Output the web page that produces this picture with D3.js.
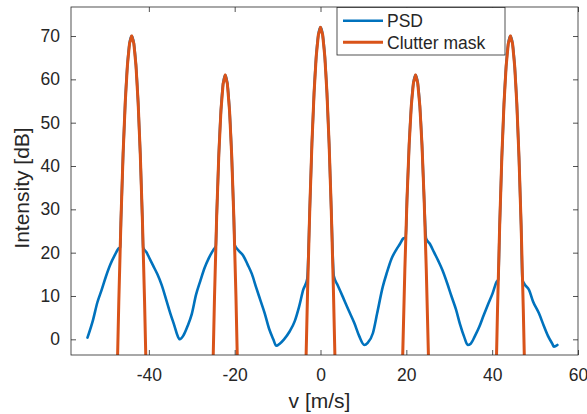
<!DOCTYPE html>
<html><head><meta charset="utf-8">
<script src="https://cdn.jsdelivr.net/npm/d3@7"></script>
<style>body{margin:0;background:#fff}svg{display:block}text{font-family:"Liberation Sans",Arial,sans-serif;fill:#262626}</style>
</head><body><svg id="c" width="587" height="414"></svg>
<script>
// PSD series (velocity m/s, intensity dB)
const psdV = [-54.3,-53,-52,-51,-50,-49,-48,-47,-46.68,-46.5,-46,-45.5,-45,-44.5,-44,-43.5,-43,-42.5,-42,-41.5,-41.32,-40.5,-40,-39,-38,-37,-36,-35,-34,-33.3,-32.8,-32,-31,-30,-29,-28,-27,-26,-25,-24.41,-24.2,-23.7,-23.2,-22.7,-22.2,-21.7,-21.2,-20.7,-20.2,-19.99,-19.2,-18,-17,-16,-15,-14,-13,-12,-11,-10.3,-9.5,-8.5,-7.2,-6,-5,-4,-3.1,-2.5,-2,-1.5,-1,-0.5,0,0.5,1,1.5,2,2.5,3.1,4,5.2,6.5,7.9,9,10.2,11,12.2,13.2,14.5,15.5,16.5,17.6,18.5,19.3,19.86,20.15,20.65,21.15,21.65,22.15,22.65,23.15,23.65,24.15,24.6,25.5,26.5,27.5,28.4,29.5,30.5,31.6,32.5,33.5,34.3,35,36,37,38,39,40.1,41,41.41,41.75,42.25,42.75,43.25,43.75,44.25,44.75,45.25,45.75,46.25,46.75,47.05,47.5,48.6,49.5,50.9,52,53,54,54.4,55.2];
const psdDb = [0.4,4.5,8.5,11.4,14.5,17.2,19.3,21,21.2,27.5,42.8,54.7,63.2,68.3,70,68.3,63.2,54.7,42.8,27.5,21.2,20,19,17,15,12.5,9.3,6,3,0.8,0,0.8,3,5.8,10.3,13.5,16.5,18.8,20.6,21.5,28.2,42.55,52.8,58.95,61,58.95,52.8,42.55,28.2,21.8,20.6,19.3,17.3,15.1,12,9,6,2.5,0,-1.5,-1,0,1.8,4.2,7.5,11.5,13.9,30.1,45.2,56.9,65.3,70.3,72,70.3,65.3,56.9,45.2,30.1,14.6,12.5,9.8,6.8,3.7,0.8,-1.3,-0.8,1.4,6,12.1,15.5,18.5,20.6,22,23.3,23.5,32.2,44.8,53.8,59.2,61,59.2,53.8,44.8,32.2,23.3,22,20,18,16,13,10,6.8,3.5,0.5,-1.3,-1,0.8,2.9,5.5,8,10.6,13.2,13.8,26.25,42,54.25,63,68.25,70,68.25,63,54.25,42,26.25,13.8,12.8,11.4,8.8,6,3.2,0.8,-1,-1.7,-1.3];

// Clutter mask: one group of samples per clutter peak
const maskV = [
  [-47.5,-47,-46.5,-46,-45.5,-45,-44.5,-44,-43.5,-43,-42.5,-42,-41.5,-41,-40.5],
  [-25.7,-25.2,-24.7,-24.2,-23.7,-23.2,-22.7,-22.2,-21.7,-21.2,-20.7,-20.2,-19.7,-19.2,-18.7],
  [-3.5,-3,-2.5,-2,-1.5,-1,-0.5,0,0.5,1,1.5,2,2.5,3,3.5],
  [18.65,19.15,19.65,20.15,20.65,21.15,21.65,22.15,22.65,23.15,23.65,24.15,24.65,25.15,25.65],
  [40.75,41.25,41.75,42.25,42.75,43.25,43.75,44.25,44.75,45.25,45.75,46.25,46.75,47.25,47.75]
];
const maskDb = [
  [-13.3,8.8,27.5,42.8,54.7,63.2,68.3,70,68.3,63.2,54.7,42.8,27.5,8.8,-13.3],
  [-39.5,-12.8,9.75,28.2,42.55,52.8,58.95,61,58.95,52.8,42.55,28.2,9.75,-12.8,-39.5],
  [-10.1,11.7,30.1,45.2,56.9,65.3,70.3,72,70.3,65.3,56.9,45.2,30.1,11.7,-10.1],
  [-27.2,-3.8,16,32.2,44.8,53.8,59.2,61,59.2,53.8,44.8,32.2,16,-3.8,-27.2],
  [-15.75,7,26.25,42,54.25,63,68.25,70,68.25,63,54.25,42,26.25,7,-15.75]
];
const xTicks = [-40,-20,0,20,40,60];
const yTicks = [0,10,20,30,40,50,60,70];
const seriesNames = ["PSD","Clutter mask"];
const colors = ["#0072BD","#D95319"];

const svg = d3.select("#c");
const L=71, R=578, T=7, B=355;
const x = d3.scaleLinear().domain([-58.14,60]).range([L,R]);
const y = d3.scaleLinear().domain([-3.62,76.7]).range([B,T]);

svg.append("defs").append("clipPath").attr("id","clip")
  .append("rect").attr("x",L).attr("y",T).attr("width",R-L).attr("height",B-T);

const line = d3.line().x(d=>x(d[0])).y(d=>y(d[1]));
const smooth = d3.line().x(d=>x(d[0])).y(d=>y(d[1])).curve(d3.curveMonotoneX);
const plot = svg.append("g").attr("clip-path","url(#clip)");

plot.append("path").datum(psdV.map((v,i)=>[v,psdDb[i]]))
  .attr("d",smooth).attr("fill","none").attr("stroke",colors[0])
  .attr("stroke-width",2.6).attr("stroke-linejoin","round").attr("stroke-linecap","round");

maskV.forEach((vs,k)=>{
  plot.append("path").datum(vs.map((v,i)=>[v,maskDb[k][i]]))
    .attr("d",line).attr("fill","none").attr("stroke",colors[1])
    .attr("stroke-width",3).attr("stroke-linejoin","round");
});

// axes
const axCol="#262626";
const tickFont="17.5px";
const gx = svg.append("g").attr("transform",`translate(0,${B})`)
  .call(d3.axisBottom(x).tickValues(xTicks).tickSizeInner(-5).tickSizeOuter(0).tickPadding(14));
const gxt = svg.append("g").attr("transform",`translate(0,${T})`)
  .call(d3.axisTop(x).tickValues(xTicks).tickSizeInner(-5).tickSizeOuter(0).tickFormat(""));
const gy = svg.append("g").attr("transform",`translate(${L},0)`)
  .call(d3.axisLeft(y).tickValues(yTicks).tickSizeInner(-5).tickSizeOuter(0).tickPadding(11));
const gyr = svg.append("g").attr("transform",`translate(${R},0)`)
  .call(d3.axisRight(y).tickValues(yTicks).tickSizeInner(-5).tickSizeOuter(0).tickFormat(""));
[gx,gxt,gy,gyr].forEach(g=>{
  g.select(".domain").remove();
  g.selectAll("line").attr("stroke",axCol).attr("stroke-width",0.8);
  g.selectAll("text").style("font-size",tickFont).attr("fill",axCol);
});
gx.selectAll("text").text(d=>d<0?"-"+Math.abs(d):d);
gy.selectAll("text").text(d=>d<0?"-"+Math.abs(d):d);
svg.append("rect").attr("x",L).attr("y",T).attr("width",R-L).attr("height",B-T)
  .attr("fill","none").attr("stroke",axCol).attr("stroke-width",0.8);

svg.append("text").attr("x",(L+R)/2-5).attr("y",408).attr("text-anchor","middle")
  .style("font-size","21px").text("v [m/s]");
svg.append("text").attr("transform",`translate(28.5,188) rotate(-90)`).attr("text-anchor","middle")
  .style("font-size","21px").text("Intensity [dB]");

// legend
const lg = svg.append("g");
lg.append("rect").attr("x",337).attr("y",7.5).attr("width",168).attr("height",47.5)
  .attr("fill","#fff").attr("stroke",axCol).attr("stroke-width",0.8);
seriesNames.forEach((n,i)=>{
  const yy = 20.7 + i*21.5;
  lg.append("line").attr("x1",343).attr("x2",383).attr("y1",yy).attr("y2",yy)
    .attr("stroke",colors[i]).attr("stroke-width",i?3:2.6);
  lg.append("text").attr("x",387).attr("y",yy).attr("dy","0.36em")
    .style("font-size",tickFont).text(n);
});
</script></body></html>
